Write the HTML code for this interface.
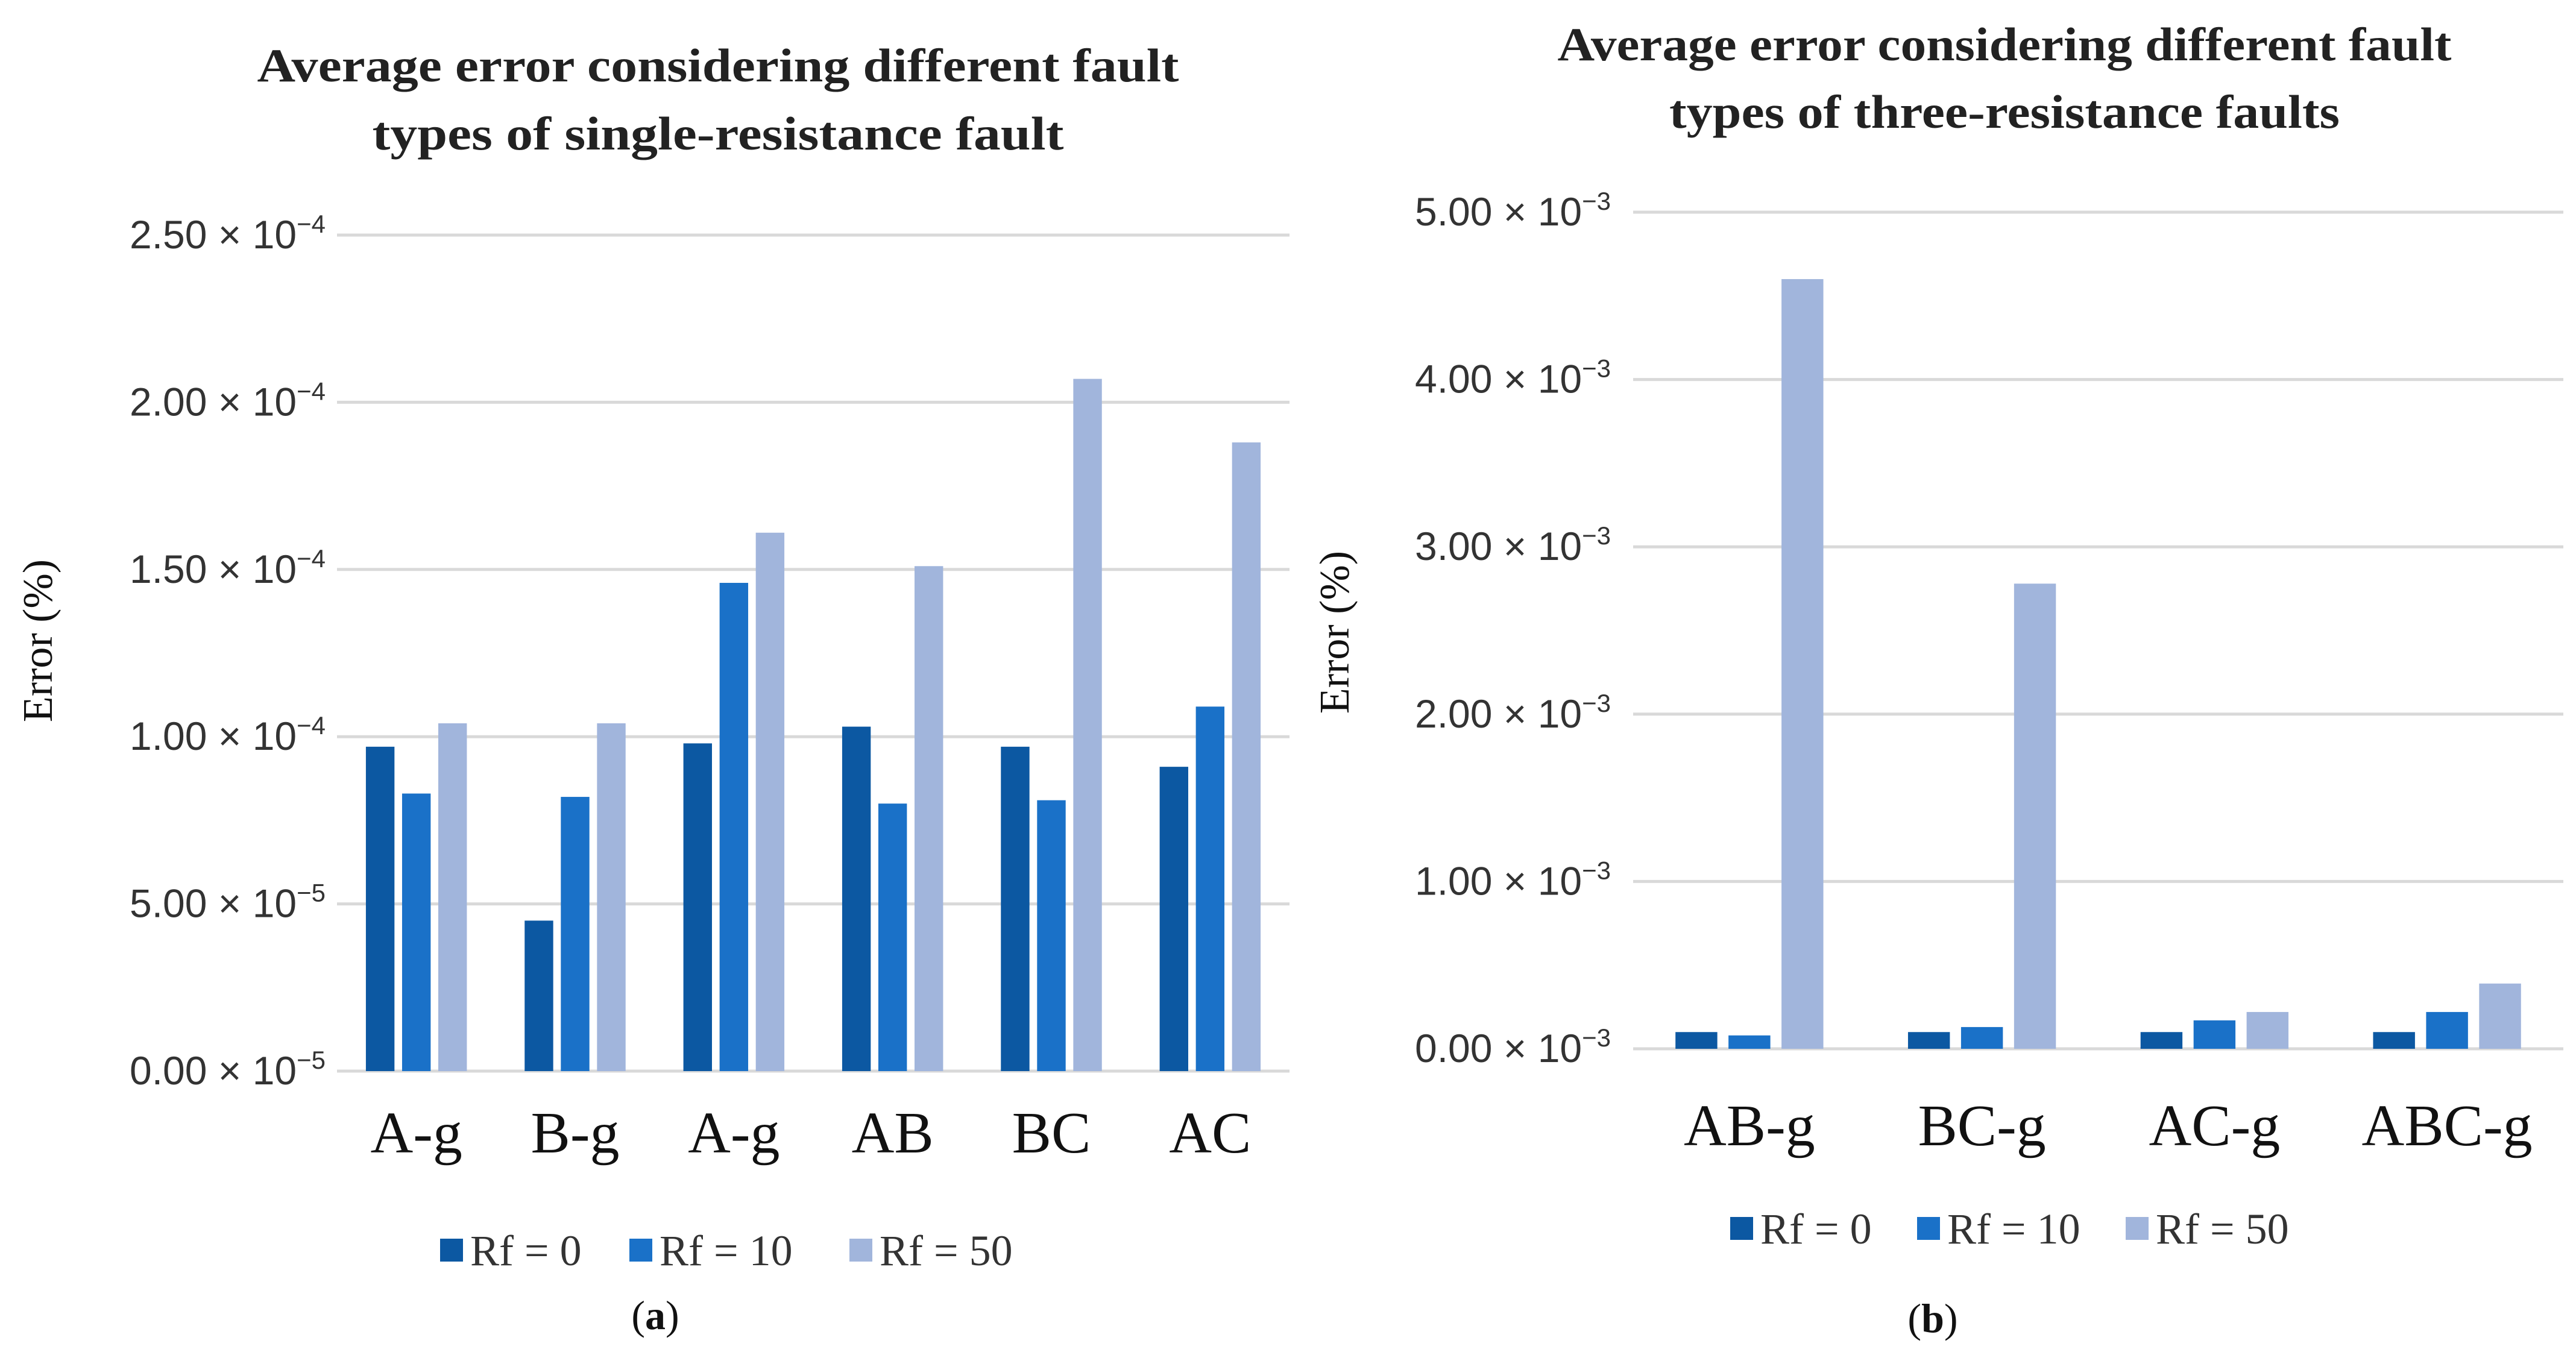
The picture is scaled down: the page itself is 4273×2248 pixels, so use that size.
<!DOCTYPE html>
<html><head><meta charset="utf-8">
<style>
html,body{margin:0;padding:0;background:#fff;}
svg{display:block;}
.ttl{font-family:"Liberation Serif",serif;font-weight:bold;font-size:78px;fill:#222;}
.tick{font-family:"Liberation Sans",sans-serif;font-size:66px;fill:#333;}
.xl{font-family:"Liberation Serif",serif;font-size:98px;fill:#111;}
.yt{font-family:"Liberation Serif",serif;font-size:70px;fill:#111;}
.lg{font-family:"Liberation Serif",serif;font-size:72px;fill:#333;}
.cap{font-family:"Liberation Serif",serif;font-size:68px;fill:#111;}
</style></head>
<body>
<svg id="fig" width="4273" height="2248" viewBox="0 0 4273 2248" xmlns="http://www.w3.org/2000/svg">
<g id="chartA"></g>
<g id="chartB"></g>
</svg>
<script>
// Chart (a) data
const catsA = ["A-g","B-g","A-g","AB","BC","AC"];
const rf0A = [0.97,0.45,0.98,1.03,0.97,0.91];
const rf10A = [0.83,0.82,1.46,0.80,0.81,1.09];
const rf50A = [1.04,1.04,1.61,1.51,2.07,1.88];
const ticksA = [0,0.5,1.0,1.5,2.0,2.5];
const tickLabelsA = ["0.00","5.00","1.00","1.50","2.00","2.50"];
const tickExpA = ["−5","−5","−4","−4","−4","−4"];
// Chart (b) data
const catsB = ["AB-g","BC-g","AC-g","ABC-g"];
const rf0B = [0.10,0.10,0.10,0.10];
const rf10B = [0.08,0.13,0.17,0.22];
const rf50B = [4.60,2.78,0.22,0.39];
const ticksB = [0,1,2,3,4,5];
const tickLabelsB = ["0.00","1.00","2.00","3.00","4.00","5.00"];
const tickExpB = ["−3","−3","−3","−3","−3","−3"];
const seriesNames = ["Rf = 0","Rf = 10","Rf = 50"];

const NS="http://www.w3.org/2000/svg";
const colors=["#0c58a2","#1a71c8","#a1b5dc"];
function mk(parent,tag,attrs,text){const e=document.createElementNS(NS,tag);for(const k in attrs)e.setAttribute(k,attrs[k]);if(text!==undefined)e.textContent=text;parent.appendChild(e);return e;}

function draw(g,cfg){
  const {cats,series,ticks,labels,exps,x0,x1,yTop,yBase,max}=cfg;
  const y=v=>yBase-(v/max)*(yBase-yTop);
  const gw=(x1-x0)/cats.length;
  cfg.title.forEach((t,i)=>{const e=mk(g,"text",{x:cfg.tcx,y:cfg.ty[i],"text-anchor":"middle",class:"ttl",textLength:cfg.tlen[i],lengthAdjust:"spacingAndGlyphs"},t);
  
  });
  ticks.forEach((tv,i)=>{
    const yy=y(tv);
    const l=mk(g,"line",{x1:x0,x2:x1,y1:yy,y2:yy,stroke:"#d9d9d9","stroke-width":5});
    
    
    const t=mk(g,"text",{x:cfg.lx,y:yy+22,"text-anchor":"end",class:"tick"});
    
    
    mk(t,"tspan",{},labels[i]+" × 10");
    mk(t,"tspan",{dy:-26,"font-size":"42px"},exps[i]);
  });
  const bw=gw*0.18, step=gw*0.228;
  cats.forEach((c,ci)=>{
    const cx=x0+gw*(ci+0.5);
    series.forEach((s,si)=>{
      const bx=cx-step-bw/2+si*step;
      const r=mk(g,"rect",{x:bx,y:y(s[ci]),width:bw,height:yBase-y(s[ci]),fill:colors[si]});
      
      
    });
    const t=mk(g,"text",{x:cx,y:cfg.xly,"text-anchor":"middle",class:"xl"},c);
    
    
  });
  const yt=mk(g,"text",{x:0,y:0,"text-anchor":"middle",class:"yt",transform:`translate(${cfg.ytx},${cfg.yty}) rotate(-90)`},"Error (%)");
  
  
  seriesNames.forEach((n,i)=>{
    const lx=cfg.legx[i];
    const r=mk(g,"rect",{x:lx,y:cfg.legy-19,width:38,height:38,fill:colors[i]});
    
    
    const t=mk(g,"text",{x:lx+50,y:cfg.legy+25,class:"lg"},n);
    
    
  });
  const cp=mk(g,"text",{x:cfg.capx,y:cfg.capy,"text-anchor":"middle",class:"cap"});
  
  
  cp.textContent="(";
  mk(cp,"tspan",{"font-weight":"bold"},cfg.cap);
  mk(cp,"tspan",{},")");
}

draw(document.getElementById("chartA"),{cats:catsA,series:[rf0A,rf10A,rf50A],ticks:ticksA,labels:tickLabelsA,exps:tickExpA,
 x0:559,x1:2139,yTop:390,yBase:1777,max:2.5,lx:540,
 title:["Average error considering different fault","types of single-resistance fault"],tcx:1191,ty:[135,248],tlen:[1529,1147],
 xly:1912,ytx:86,yty:1063,legx:[730,1044,1409],legy:2074,capx:1087,capy:2205,cap:"a"});
draw(document.getElementById("chartB"),{cats:catsB,series:[rf0B,rf10B,rf50B],ticks:ticksB,labels:tickLabelsB,exps:tickExpB,
 x0:2709,x1:4252,yTop:352,yBase:1740,max:5,lx:2672,
 title:["Average error considering different fault","types of three-resistance faults"],tcx:3325,ty:[100,212],tlen:[1483,1112],
 xly:1900,ytx:2237,yty:1049,legx:[2870,3180,3526],legy:2038,capx:3206,capy:2210,cap:"b"});
</script>
</body></html>
